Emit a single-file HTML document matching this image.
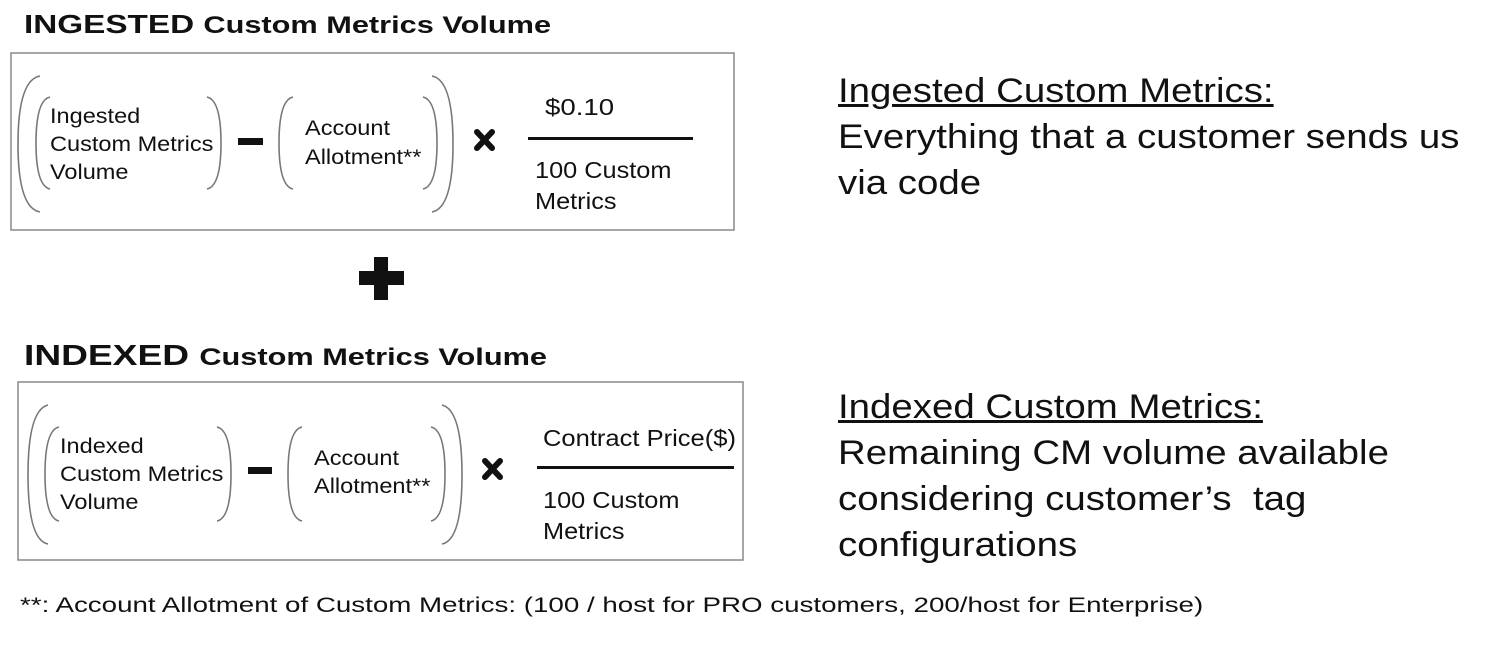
<!DOCTYPE html>
<html><head><style>
body{margin:0;width:1494px;height:648px;background:#fff;position:relative;overflow:hidden;font-family:"Liberation Sans",Arial,sans-serif;color:#111}
.t{position:absolute;white-space:nowrap;line-height:1;transform-origin:0 0}
svg{position:absolute;left:0;top:0}
</style></head><body>
<svg width="1494" height="648" viewBox="0 0 1494 648">
<g fill="none" stroke="#777" stroke-width="1.6">
<rect x="11" y="53" width="723" height="177" stroke="#888" stroke-width="1.5"/>
<path d="M40 76 Q18 80 18 144 Q18 208 40 212"/>
<path d="M50 97 Q36 100 36 143 Q36 186 50 189"/>
<path d="M207 97 Q221 100 221 143 Q221 186 207 189"/>
<path d="M293 97 Q279 100 279 143 Q279 186 293 189"/>
<path d="M423 97 Q437 100 437 143 Q437 186 423 189"/>
<path d="M432 76 Q453 80 453 144 Q453 208 432 212"/>
<rect x="18" y="382" width="725" height="178" stroke="#888" stroke-width="1.5"/>
<path d="M48 405 Q28 410 28 475 Q28 540 48 544"/>
<path d="M59 427 Q45 430 45 474 Q45 518 59 521"/>
<path d="M217 427 Q231 430 231 474 Q231 518 217 521"/>
<path d="M302 427 Q288 430 288 474 Q288 518 302 521"/>
<path d="M431 427 Q445 430 445 474 Q445 518 431 521"/>
<path d="M442 405 Q462 410 462 475 Q462 540 442 544"/>
</g>
<g fill="#111">
<rect x="238" y="138" width="25" height="7"/>
<rect x="248" y="467" width="24" height="7"/>
<rect x="528" y="137" width="165" height="3"/>
<rect x="537" y="466" width="197" height="3"/>
<rect x="374" y="257" width="14" height="43"/>
<rect x="359" y="271" width="45" height="14"/>
</g>
<g stroke="#111" stroke-width="6" stroke-linecap="round">
<path d="M477 132 L492 148 M492 132 L477 148"/>
<path d="M485 461 L500 477 M500 461 L485 477"/>
</g>
</svg>
<div class="t" style="left:24px;top:11px;font-size:26px;font-weight:bold;transform:scaleX(1.28)">INGESTED <span style="font-size:24px">Custom Metrics Volume</span></div>
<div class="t" style="left:24px;top:342px;font-weight:bold;font-size:29px;transform:scaleX(1.28)">INDEXED <span style="font-size:24px">Custom Metrics Volume</span></div>

<div class="t" style="left:50px;top:103px;font-size:21px;line-height:28px;transform:scaleX(1.12)">Ingested<br>Custom Metrics<br>Volume</div>
<div class="t" style="left:305px;top:114px;font-size:21px;line-height:29px;transform:scaleX(1.12)">Account<br>Allotment**</div>
<div class="t" style="left:545px;top:96px;font-size:23px;transform:scaleX(1.2)">$0.10</div>
<div class="t" style="left:535px;top:155px;font-size:23px;line-height:31px;transform:scaleX(1.1)">100 Custom<br>Metrics</div>

<div class="t" style="left:60px;top:433px;font-size:21px;line-height:28px;transform:scaleX(1.12)">Indexed<br>Custom Metrics<br>Volume</div>
<div class="t" style="left:314px;top:445px;font-size:21px;line-height:28px;transform:scaleX(1.12)">Account<br>Allotment**</div>
<div class="t" style="left:543px;top:427px;font-size:23px;transform:scaleX(1.11)">Contract Price($)</div>
<div class="t" style="left:543px;top:485px;font-size:23px;line-height:31px;transform:scaleX(1.1)">100 Custom<br>Metrics</div>

<div class="t" style="left:838px;top:68px;font-size:34px;line-height:46px;transform:scaleX(1.13)"><u>Ingested Custom Metrics:</u><br>Everything that a customer sends us<br>via code</div>
<div class="t" style="left:838px;top:384px;font-size:34px;line-height:46px;transform:scaleX(1.13)"><u>Indexed Custom Metrics:</u><br>Remaining CM volume available<br>considering customer’s&nbsp; tag<br>configurations</div>

<div class="t" style="left:20px;top:595px;font-size:21px;transform:scaleX(1.32)">**: Account Allotment of Custom Metrics: (100 / host for PRO customers, 200/host for Enterprise)</div>
</body></html>
